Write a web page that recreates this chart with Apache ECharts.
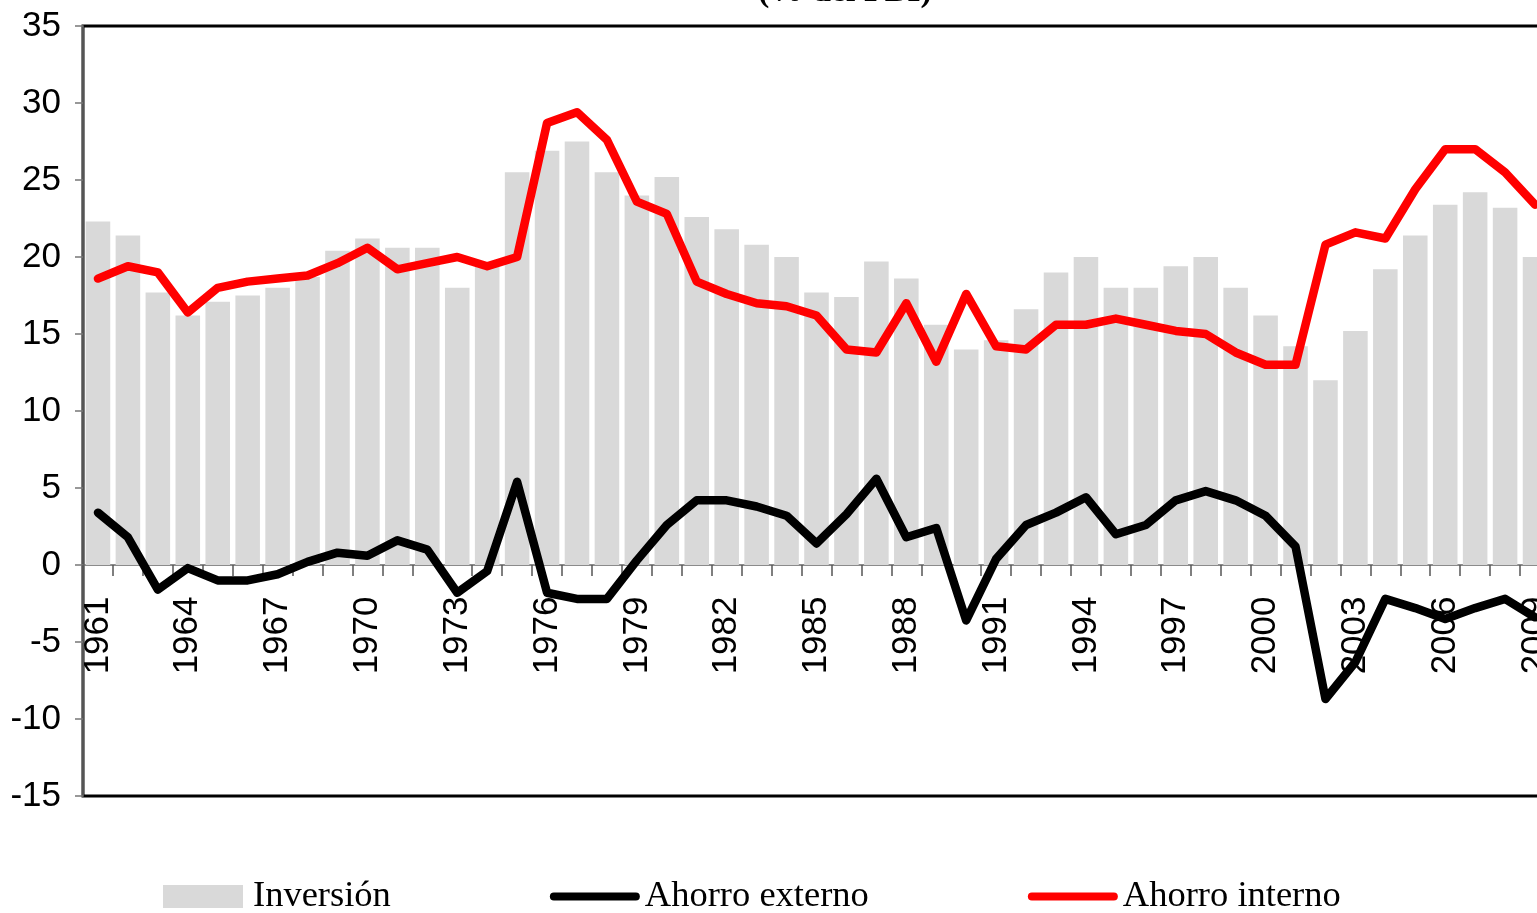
<!DOCTYPE html>
<html>
<head>
<meta charset="utf-8">
<script src="https://cdn.jsdelivr.net/npm/echarts@6/dist/echarts.min.js"></script>
<style>
  html, body { margin: 0; padding: 0; background: #fff; }
  #chart { width: 1537px; height: 913px; }
</style>
</head>
<body>
<div id="chart"></div>
<script>
// años
const years = [
  '1961', '1962', '1963', '1964', '1965', '1966', '1967', '1968', '1969', '1970',
  '1971', '1972', '1973', '1974', '1975', '1976', '1977', '1978', '1979', '1980',
  '1981', '1982', '1983', '1984', '1985', '1986', '1987', '1988', '1989', '1990',
  '1991', '1992', '1993', '1994', '1995', '1996', '1997', '1998', '1999', '2000',
  '2001', '2002', '2003', '2004', '2005', '2006', '2007', '2008', '2009'
];
// Inversión (% del PBI)
const inversion = [
  22.3, 21.4, 17.7, 16.2, 17.1, 17.5, 18.0, 18.7, 20.4, 21.2,
  20.6, 20.6, 18.0, 19.4, 25.5, 26.9, 27.5, 25.5, 24.0, 25.2,
  22.6, 21.8, 20.8, 20.0, 17.7, 17.4, 19.7, 18.6, 15.6, 14.0,
  14.6, 16.6, 19.0, 20.0, 18.0, 18.0, 19.4, 20.0, 18.0, 16.2,
  14.2, 12.0, 15.2, 19.2, 21.4, 23.4, 24.2, 23.2, 20.0
];
// Ahorro externo
const ahorroExterno = [
  3.4, 1.8, -1.6, -0.2, -1.0, -1.0, -0.6, 0.2, 0.8, 0.6,
  1.6, 1.0, -1.8, -0.4, 5.4, -1.8, -2.2, -2.2, 0.3, 2.6,
  4.2, 4.2, 3.8, 3.2, 1.4, 3.3, 5.6, 1.8, 2.4, -3.6,
  0.4, 2.6, 3.4, 4.4, 2.0, 2.6, 4.2, 4.8, 4.2, 3.2,
  1.2, -8.7, -6.3, -2.2, -2.8, -3.5, -2.8, -2.2, -3.4
];
// Ahorro interno
const ahorroInterno = [
  18.6, 19.4, 19.0, 16.4, 18.0, 18.4, 18.6, 18.8, 19.6, 20.6,
  19.2, 19.6, 20.0, 19.4, 20.0, 28.7, 29.4, 27.6, 23.6, 22.8,
  18.4, 17.6, 17.0, 16.8, 16.2, 14.0, 13.8, 17.0, 13.2, 17.6,
  14.2, 14.0, 15.6, 15.6, 16.0, 15.6, 15.2, 15.0, 13.8, 13.0,
  13.0, 20.8, 21.6, 21.2, 24.4, 27.0, 27.0, 25.5, 23.4
];

const chart = echarts.init(document.getElementById('chart'));

// iconos de la leyenda
const boxIcon = 'path://M0,0 L80,0 L80,23 L0,23 Z';
const lineIcon = 'path://M4,0 L86,0 A4,4 0 0 1 86,8 L4,8 A4,4 0 0 1 4,0 Z';

const labelFont = {
  fontFamily: 'Liberation Sans',
  fontSize: 35,
  color: '#000'
};

const option = {
  animation: false,
  backgroundColor: '#fff',
  graphic: [{
    type: 'text',
    x: 845,
    y: 9,
    style: {
      text: '(% del PBI)',
      font: 'bold 34px "Liberation Serif"',
      fill: '#000',
      align: 'center',
      verticalAlign: 'bottom'
    }
  }],
  legend: {
    left: 158,
    top: 873,
    itemWidth: 90,
    itemHeight: 23,
    itemGap: 159,
    symbolKeepAspect: true,
    textStyle: {
      fontFamily: 'Liberation Serif',
      fontSize: 36.5,
      color: '#000'
    },
    data: [
      {name: 'Inversión', icon: boxIcon},
      {name: 'Ahorro externo', icon: lineIcon},
      {name: 'Ahorro interno', icon: lineIcon}
    ]
  },
  grid: [
    {
      left: 83,
      top: 26,
      right: -13,
      bottom: 117,
      containLabel: false,
      outerBoundsMode: 'none',
      show: true,
      borderColor: '#000',
      borderWidth: 3
    },
    {
      // solo para las etiquetas de años bajo la línea del cero
      left: 83,
      top: 26,
      right: -13,
      bottom: 348.5,
      containLabel: false,
      outerBoundsMode: 'none',
      show: false
    }
  ],
  xAxis: [
    {
      type: 'category',
      gridIndex: 0,
      data: years,
      boundaryGap: true,
      axisLine: {
        onZero: true,
        lineStyle: {color: '#666', width: 1.5}
      },
      axisTick: {
        show: true,
        interval: 0,
        length: 11,
        lineStyle: {color: '#555', width: 1.5}
      },
      axisLabel: {show: false},
      splitLine: {show: false}
    },
    {
      type: 'category',
      gridIndex: 1,
      data: years,
      boundaryGap: true,
      position: 'bottom',
      axisLine: {show: false, onZero: false},
      axisTick: {show: false},
      axisLabel: Object.assign({
        interval: 2,
        rotate: 90,
        margin: 32
      }, labelFont),
      splitLine: {show: false}
    }
  ],
  yAxis: [
    {
      type: 'value',
      gridIndex: 0,
      min: -15,
      max: 35,
      interval: 5,
      axisLine: {
        show: true,
        lineStyle: {color: '#555', width: 2}
      },
      axisTick: {
        show: true,
        length: 8,
        lineStyle: {color: '#777', width: 1.5}
      },
      axisLabel: Object.assign({margin: 22}, labelFont),
      splitLine: {show: false}
    },
    {
      type: 'value',
      gridIndex: 1,
      show: false
    }
  ],
  series: [
    {
      name: 'Inversión',
      type: 'bar',
      data: inversion,
      barCategoryGap: '18%',
      itemStyle: {color: '#d9d9d9'},
      z: 1
    },
    {
      name: 'Ahorro externo',
      type: 'line',
      data: ahorroExterno,
      symbol: 'none',
      lineStyle: {color: '#000', width: 8.5, cap: 'round', join: 'round'},
      itemStyle: {color: '#000'},
      z: 3
    },
    {
      name: 'Ahorro interno',
      type: 'line',
      data: ahorroInterno,
      symbol: 'none',
      lineStyle: {color: '#ff0000', width: 8.5, cap: 'round', join: 'round'},
      itemStyle: {color: '#ff0000'},
      z: 4
    }
  ]
};

chart.setOption(option);
</script>
</body>
</html>
